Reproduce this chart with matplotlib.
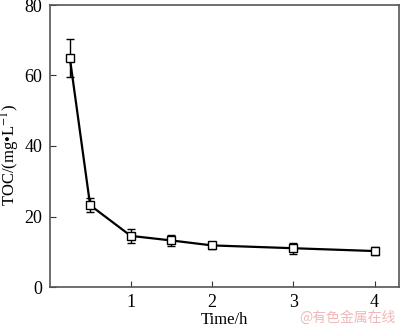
import matplotlib
matplotlib.use('Agg')
import matplotlib.pyplot as plt

time_h = [0.25, 0.5, 1, 1.5, 2, 3, 4]
toc = [65.0, 23.2, 14.5, 13.2, 11.8, 11.0, 10.2]
toc_err = [5.3, 2.0, 1.9, 1.6, 1.0, 1.5, 1.1]

plt.rcParams['font.family'] = ['Liberation Serif', 'DejaVu Serif']
plt.rcParams['mathtext.fontset'] = 'stix'

fig = plt.figure(figsize=(4.0, 3.27), dpi=100)
ax = fig.add_axes([49.5 / 400, 40 / 327, 349.5 / 400, 282 / 327])

ax.errorbar(time_h, toc, yerr=toc_err, color='black', lw=1.6,
            marker='s', ms=5.5, mfc='white', mec='black', mew=1.0,
            ecolor='black', elinewidth=1.0, capsize=3, capthick=1.0)

ax.set_xlim(0, 4.3)
ax.set_ylim(0, 80)
ax.set_xticks([1, 2, 3, 4])
ax.set_yticks([0, 20, 40, 60, 80])
ax.tick_params(direction='in', length=4, width=0.8, labelsize=13,
               colors='#333333', labelcolor='black', pad=5)
for s in ax.spines.values():
    s.set_color('#555555')
    s.set_linewidth(1.2)

ax.set_xlabel('Time/h', fontsize=12)
ax.xaxis.set_label_coords(0.5, -0.088)
ax.set_ylabel('TOC/(mg•L$^{-1}$)', fontsize=12)
ax.yaxis.set_label_coords(-0.078, 0.468)

fig.text(0.99, 0.008, '@有色金属在线', color='#f0b8b8', fontsize=10,
         ha='right', va='bottom',
         family=['Noto Sans CJK SC', 'DejaVu Sans'])

fig.savefig('out.png', dpi=100)
